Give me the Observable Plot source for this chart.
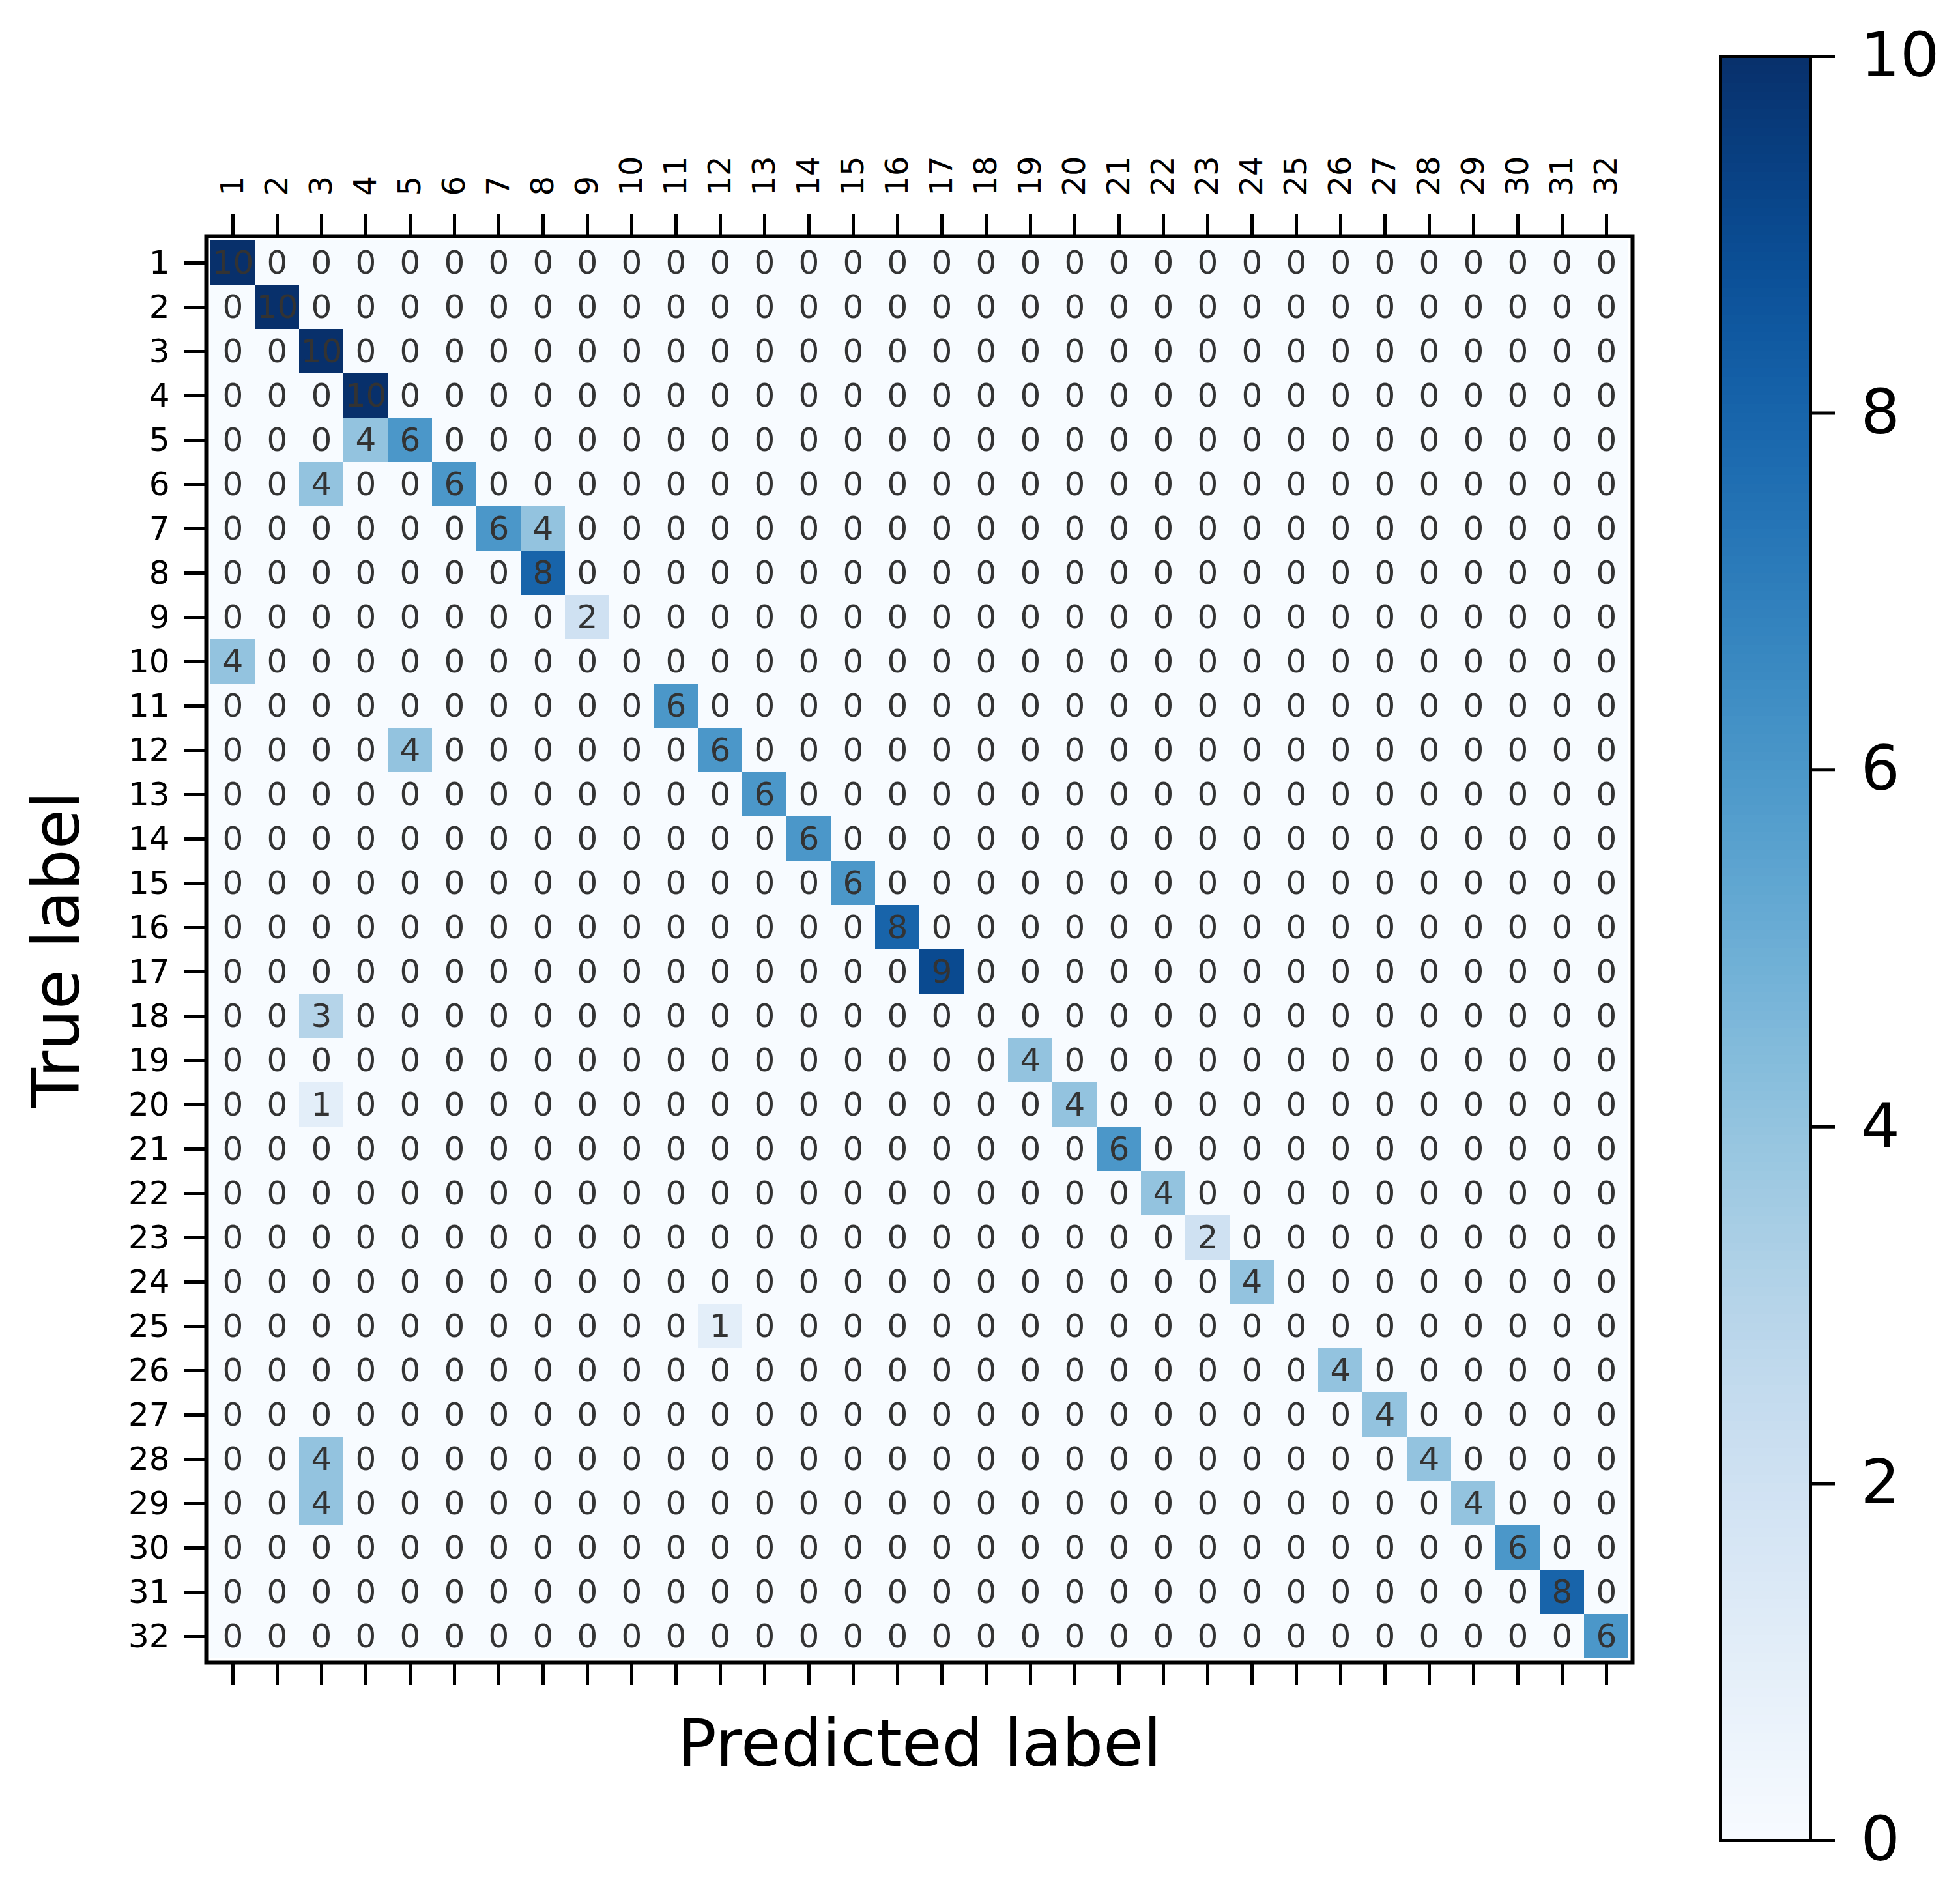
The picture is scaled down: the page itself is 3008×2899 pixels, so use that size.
<!DOCTYPE html>
<html>
<head>
<meta charset="utf-8">
<script src="https://cdn.jsdelivr.net/npm/d3@7"></script>
<script src="https://cdn.jsdelivr.net/npm/@observablehq/plot@0.6"></script>
<style>
  html, body { margin: 0; padding: 0; background: #ffffff; }
  #wrap { position: relative; width: 3008px; height: 2899px; background: #ffffff; overflow: hidden; }
  #wrap svg { position: absolute; }
</style>
</head>
<body>
<div id="wrap"></div>
<script>
// Class labels (rows = true label, columns = predicted label)
const labels = ["1","2","3","4","5","6","7","8","9","10","11","12","13","14","15","16",
                "17","18","19","20","21","22","23","24","25","26","27","28","29","30","31","32"];

// Non-zero cells of the confusion matrix
const cellTrue  = [1,2,3,4,5,5,6,6,7,7,8,9,10,11,12,12,13,14,15,16,17,18,19,20,20,21,22,23,24,25,26,27,28,28,29,29,30,31,32];
const cellPred  = [1,2,3,4,4,5,3,6,7,8,8,9,1,11,5,12,13,14,15,16,17,3,19,3,20,21,22,23,24,12,26,27,3,28,3,29,30,31,32];
const cellCount = [10,10,10,10,4,6,4,6,6,4,8,2,4,6,4,6,6,6,6,8,9,3,4,1,4,6,4,2,4,1,4,4,4,4,4,4,6,8,6];

// Colorbar
const colorDomain = [0, 10];
const colorbarTicks = [0, 2, 4, 6, 8, 10];

const xTitle = "Predicted label";
const yTitle = "True label";

// Build the full table
const lookup = new Map();
cellTrue.forEach((t, i) => lookup.set(t + "|" + cellPred[i], cellCount[i]));
const grid = [];
for (const t of labels) for (const p of labels) {
  grid.push({true: t, pred: p, value: lookup.get(t + "|" + p) ?? 0});
}

const font = "DejaVu Sans";

const main = Plot.plot({
  width: 3008,
  height: 2899,
  marginLeft: 316,
  marginRight: 503,
  marginTop: 362,
  marginBottom: 348,
  style: {fontFamily: font, background: "transparent", color: "black"},
  x: {domain: labels, padding: 0, axis: null},
  y: {domain: labels, padding: 0, axis: null},
  color: {type: "linear", scheme: "blues", domain: colorDomain},
  marks: [
    Plot.cell(grid, {x: "pred", y: "true", fill: "value", inset: 0, shapeRendering: "crispEdges"}),
    Plot.text(grid, {x: "pred", y: "true", text: d => String(d.value), fontSize: 50, fill: "#333"}),
    Plot.frame({stroke: "black", strokeWidth: 6}),
    Plot.axisX({anchor: "top", tickSize: 35, tickPadding: 27, tickRotate: -90, fontSize: 48, strokeWidth: 5, label: null, fill: "black"}),
    Plot.axisX({anchor: "bottom", tickSize: 35, tickFormat: () => "", strokeWidth: 5, label: null}),
    Plot.axisY({anchor: "left", tickSize: 34, tickPadding: 22, fontSize: 50, strokeWidth: 5, label: null, fill: "black"}),
    Plot.text([xTitle], {text: d => d, frameAnchor: "bottom", dy: 126, fontSize: 100, lineAnchor: "middle", textAnchor: "middle", fill: "black"}),
    Plot.text([yTitle], {text: d => d, frameAnchor: "left", dx: -228, rotate: -90, fontSize: 100, lineAnchor: "middle", textAnchor: "middle", fill: "black"})
  ]
});
main.style.left = "0px";
main.style.top = "0px";

const step = 0.05;
const steps = d3.range(colorDomain[0], colorDomain[1], step);
const cb = Plot.plot({
  width: 408,
  height: 2899,
  marginLeft: 40,
  marginRight: 230,
  marginTop: 86,
  marginBottom: 75,
  style: {fontFamily: font, background: "transparent", color: "black"},
  x: {domain: [0, 1], axis: null},
  y: {domain: colorDomain, axis: null},
  color: {type: "linear", scheme: "blues", domain: colorDomain},
  marks: [
    Plot.rect(steps, {x1: () => 0, x2: () => 1, y1: d => d, y2: d => Math.min(colorDomain[1], d + step * 1.2), fill: d => d + step / 2, shapeRendering: "crispEdges"}),
    Plot.frame({stroke: "black", strokeWidth: 5}),
    Plot.axisY({anchor: "right", ticks: colorbarTicks, tickSize: 37, tickPadding: 40, fontSize: 95, strokeWidth: 5, label: null, fill: "black"})
  ]
});
cb.style.left = "2600px";
cb.style.top = "0px";

const wrap = document.getElementById("wrap");
wrap.appendChild(main);
wrap.appendChild(cb);
</script>
</body>
</html>
